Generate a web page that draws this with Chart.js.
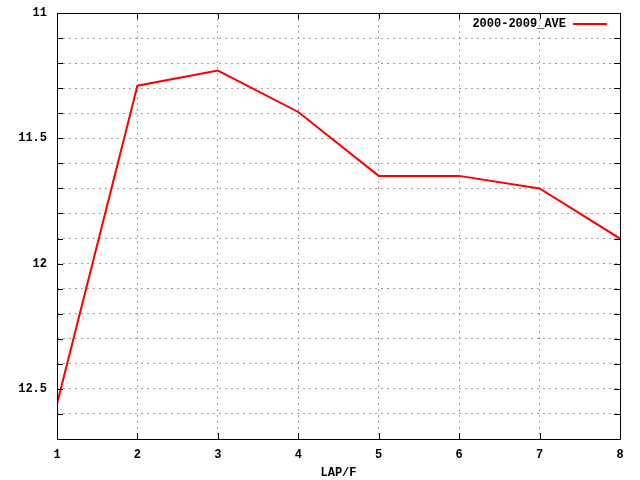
<!DOCTYPE html>
<html>
<head>
<meta charset="utf-8">
<script src="https://cdn.jsdelivr.net/npm/chart.js@4.4.1/dist/chart.umd.min.js"></script>
<style>
html,body{margin:0;padding:0;background:#fff;}
#wrap{width:640px;height:480px;}
</style>
</head>
<body>
<div id="wrap"><canvas id="c" width="640" height="480"></canvas></div>
<script>
const laps = [1, 2, 3, 4, 5, 6, 7, 8];
const ave = [12.56, 11.29, 11.23, 11.395, 11.65, 11.65, 11.70, 11.90];
const seriesLabel = '2000-2009_AVE';
const yLabels = [11, 11.5, 12, 12.5];
const xTitle = 'LAP/F';

const FONT = {family: '"Liberation Mono", "DejaVu Sans Mono", monospace', size: 12, weight: 'bold'};

const framePlugin = {
  id: 'frame',
  afterDatasetsDraw(chart) {
    const ctx = chart.ctx;
    const a = chart.chartArea;
    const xs = chart.scales.x, ys = chart.scales.y;
    ctx.save();
    ctx.strokeStyle = '#000';
    ctx.lineWidth = 1;
    ctx.setLineDash([]);
    ctx.beginPath();
    const T = 6;
    ys.ticks.forEach(t => {
      const py = Math.round(ys.getPixelForValue(t.value)) + 0.5;
      ctx.moveTo(a.left, py); ctx.lineTo(a.left + T, py);
      ctx.moveTo(a.right, py); ctx.lineTo(a.right - T, py);
    });
    xs.ticks.forEach(t => {
      const px = Math.round(xs.getPixelForValue(t.value)) + 0.5;
      ctx.moveTo(px, a.top); ctx.lineTo(px, a.top + T);
      ctx.moveTo(px, a.bottom); ctx.lineTo(px, a.bottom - T);
    });
    ctx.stroke();
    ctx.beginPath();
    ctx.rect(Math.round(a.left) + 0.5, Math.round(a.top) + 0.5, Math.round(a.right - a.left), Math.round(a.bottom - a.top));
    ctx.stroke();
    // legend
    const ds = chart.data.datasets[0];
    ctx.font = 'bold 12px "Liberation Mono", "DejaVu Sans Mono", monospace';
    ctx.fillStyle = '#000';
    ctx.textAlign = 'right';
    ctx.textBaseline = 'middle';
    ctx.fillText(ds.label, a.right - 54, a.top + 11);
    ctx.strokeStyle = ds.borderColor;
    ctx.lineWidth = 2;
    ctx.beginPath();
    ctx.moveTo(a.right - 47, a.top + 11);
    ctx.lineTo(a.right - 13, a.top + 11);
    ctx.stroke();
    ctx.restore();
  }
};

new Chart(document.getElementById('c'), {
  type: 'line',
  data: {
    datasets: [{
      label: seriesLabel,
      data: laps.map((x, i) => ({x: x, y: ave[i]})),
      borderColor: '#ff0000',
      borderWidth: 2,
      pointRadius: 0,
      tension: 0,
      fill: false
    }]
  },
  options: {
    responsive: false,
    animation: false,
    devicePixelRatio: 1,
    layout: {padding: {left: 0, right: 20, top: 13, bottom: 0}},
    plugins: {legend: {display: false}, tooltip: {enabled: false}},
    scales: {
      x: {
        type: 'linear',
        min: 1, max: 8,
        ticks: {stepSize: 1, color: '#000', font: FONT, padding: 9, maxRotation: 0,
          callback: v => laps.includes(v) ? String(v) : ''},
        grid: {drawTicks: false, color: ctx => (ctx.tick && (ctx.tick.value === 1 || ctx.tick.value === 8)) ? 'rgba(0,0,0,0)' : '#a0a0a0', lineWidth: 1},
        border: {display: false, dash: [2, 4]},
        title: {display: true, text: xTitle, color: '#000', font: FONT, padding: {top: 2, bottom: 0}},
        afterFit: s => { s.height = 41; s.paddingLeft = 0; s.paddingRight = 0; }
      },
      y: {
        type: 'linear',
        reverse: true,
        min: 11, max: 12.7,
        ticks: {stepSize: 0.1, color: '#000', font: FONT, padding: 10,
          callback: v => { const r = Math.round(v * 10) / 10; return yLabels.includes(r) ? String(r) : ''; }},
        grid: {drawTicks: false, color: ctx => (ctx.tick && (Math.abs(ctx.tick.value - 11) < 1e-6 || Math.abs(ctx.tick.value - 12.7) < 1e-6)) ? 'rgba(0,0,0,0)' : '#a0a0a0', lineWidth: 1},
        border: {display: false, dash: [2, 4]},
        afterFit: s => { s.width = 57; s.paddingTop = 0; s.paddingBottom = 0; }
      }
    }
  },
  plugins: [framePlugin]
});
</script>
</body>
</html>
